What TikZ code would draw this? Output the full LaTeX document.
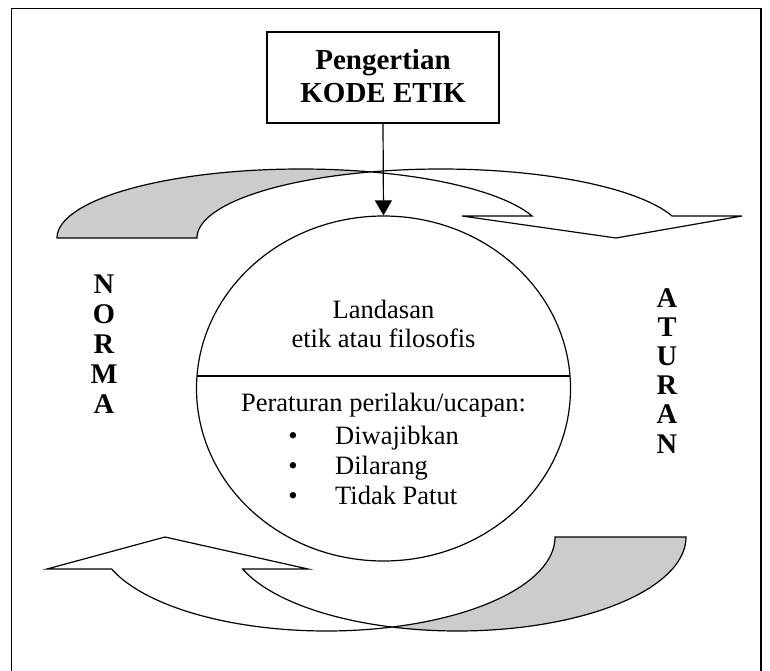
\documentclass[tikz,border=0pt]{standalone}
\usepackage{fontspec}
\setmainfont{Liberation Serif}
\usetikzlibrary{arrows.meta,shapes.geometric}
\definecolor{shade}{RGB}{204,204,204}
\begin{document}
\begin{tikzpicture}[x=1pt,y=-1pt, line join=miter,
  outline/.style={draw=black, line width=1.2pt},
  backpart/.style={outline, fill=shade},
  frontpart/.style={outline, fill=white},
  bigbold/.style={font=\fontsize{29}{33}\selectfont\bfseries, anchor=base, inner sep=0pt},
  bodytext/.style={font=\fontsize{26.5}{29}\selectfont, anchor=base, inner sep=0pt},
  sidelet/.style={font=\fontsize{28.5}{30}\selectfont\bfseries, anchor=base, inner sep=0pt},
]
\useasboundingbox (0,0) rectangle (770,671);
\fill[white] (0,0) rectangle (770,671);
% frame
\draw[line width=1.2pt] (11.5,671) -- (11.5,8.5) -- (761,8.5) -- (761,671);

% top curved arrow: back (shaded) part
\path[backpart] plot[domain=180:286.68, samples=60] ({300.9+243.9*cos(\x)},{238+69*sin(\x)})
  -- plot[domain=253.32:180, samples=60] ({440.9+243.9*cos(\x)},{238+69*sin(\x)}) -- cycle;
% top curved arrow: front part with head
\path[frontpart] plot[domain=253.32:341.41, samples=60] ({440.9+243.9*cos(\x)},{238+69*sin(\x)})
  -- (742,216) -- (616,238) -- (462,216)
  -- plot[domain=341.41:286.68, samples=60] ({300.9+243.9*cos(\x)},{238+69*sin(\x)}) -- cycle;

% bottom curved arrow: back (shaded) part
\path[backpart] plot[domain=0:106.66, samples=60] ({457.5+228.5*cos(\x)},{537+94*sin(\x)})
  -- plot[domain=73.34:0, samples=60] ({326.5+228.5*cos(\x)},{537+94*sin(\x)}) -- cycle;
% bottom curved arrow: front part with head
\path[frontpart] plot[domain=73.34:160.1, samples=60] ({326.5+228.5*cos(\x)},{537+94*sin(\x)})
  -- (47,569) -- (165,537) -- (308,569)
  -- plot[domain=160.1:106.66, samples=60] ({457.5+228.5*cos(\x)},{537+94*sin(\x)}) -- cycle;

% central ellipse
\node[ellipse, draw, line width=1.2pt, minimum width=374pt, minimum height=345pt, inner sep=0pt] (circ) at (383.5,388.5) {};
\coordinate (divl) at (197,376);
\coordinate (divr) at (570,376);
\draw[outline] (divl) -- (divr);

% title box
\node[draw, line width=1.2pt, minimum width=232pt, minimum height=91pt, inner sep=0pt] (box) at (383,77.5) {};
\node[bigbold] (title1) at (383,70) {Pengertian};
\node[bigbold] (title2) at (383,103) {KODE ETIK};
\draw[line width=1.2pt, -{Triangle[width=17pt,length=15pt]}] (box.south) -- (circ.north);

% texts in the ellipse
\node[bodytext] (l1) at (383.5,318) {Landasan};
\node[bodytext] (l2) at (383.5,347) {etik atau filosofis};
\node[bodytext] (per) at (383.5,411) {Peraturan perilaku/ucapan:};
\node[bodytext] (b1) at (293,444) {•};
\node[bodytext] (b2) at (293,474) {•};
\node[bodytext] (b3) at (293,504) {•};
\node[bodytext, anchor=base west] (t1) at (335,444) {Diwajibkan};
\node[bodytext, anchor=base west] (t2) at (335,474) {Dilarang};
\node[bodytext, anchor=base west] (t3) at (335,504) {Tidak Patut};

% NORMA
\node[sidelet] (n1) at (104,293) {N};
\node[sidelet] (n2) at (104,323) {O};
\node[sidelet] (n3) at (104,353) {R};
\node[sidelet] (n4) at (104,383) {M};
\node[sidelet] (n5) at (104,413) {A};
% ATURAN
\node[sidelet] (a1) at (667,307) {A};
\node[sidelet] (a2) at (667,336) {T};
\node[sidelet] (a3) at (667,365) {U};
\node[sidelet] (a4) at (667,394) {R};
\node[sidelet] (a5) at (667,423) {A};
\node[sidelet] (a6) at (667,453) {N};
\end{tikzpicture}
\end{document}
